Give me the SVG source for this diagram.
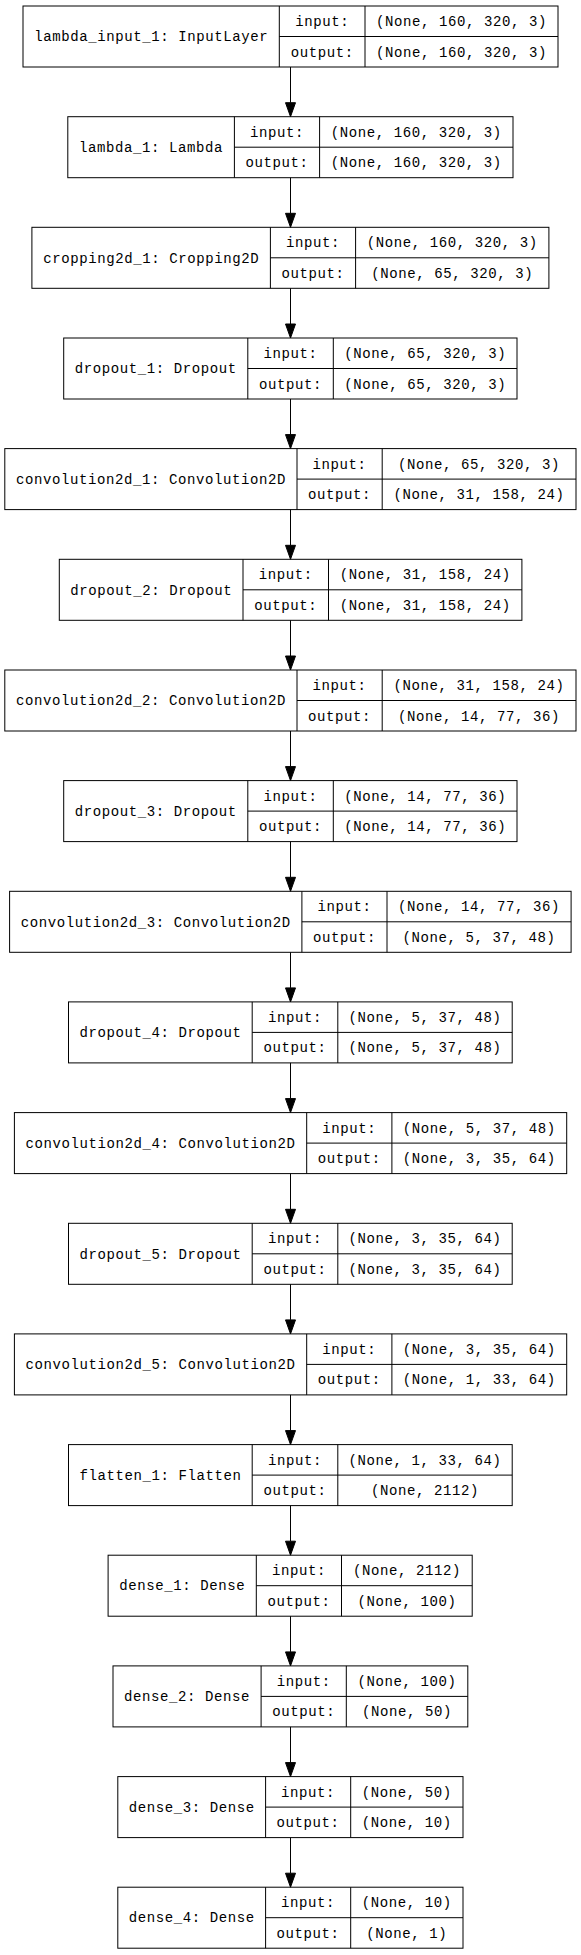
<svg xmlns="http://www.w3.org/2000/svg" width="581" height="1955" viewBox="0 0 581 1955">
<style>
.bg{fill:#fff}
.box rect{fill:none;stroke:#000;stroke-width:1}
.box line{stroke:#000;stroke-width:1}
.box text{font-family:"Liberation Mono","DejaVu Sans Mono",monospace;font-size:14px;letter-spacing:0.6px;text-anchor:middle;fill:#000}
.edges line{stroke:#000;stroke-width:1}
.edges polygon{fill:#000;stroke:#000;stroke-width:1}
</style>
<rect class="bg" x="0" y="0" width="581" height="1955"/>
<g class="edges">
<line x1="290.5" y1="67" x2="290.5" y2="102.7"/><polygon points="290.5,116.7 285.5,102.7 295.5,102.7"/>
<line x1="290.5" y1="177.7" x2="290.5" y2="213.3"/><polygon points="290.5,227.3 285.5,213.3 295.5,213.3"/>
<line x1="290.5" y1="288.3" x2="290.5" y2="324"/><polygon points="290.5,338 285.5,324 295.5,324"/>
<line x1="290.5" y1="399" x2="290.5" y2="434.6"/><polygon points="290.5,448.6 285.5,434.6 295.5,434.6"/>
<line x1="290.5" y1="509.6" x2="290.5" y2="545.3"/><polygon points="290.5,559.3 285.5,545.3 295.5,545.3"/>
<line x1="290.5" y1="620.3" x2="290.5" y2="656"/><polygon points="290.5,670 285.5,656 295.5,656"/>
<line x1="290.5" y1="731" x2="290.5" y2="766.6"/><polygon points="290.5,780.6 285.5,766.6 295.5,766.6"/>
<line x1="290.5" y1="841.6" x2="290.5" y2="877.3"/><polygon points="290.5,891.3 285.5,877.3 295.5,877.3"/>
<line x1="290.5" y1="952.3" x2="290.5" y2="987.9"/><polygon points="290.5,1001.9 285.5,987.9 295.5,987.9"/>
<line x1="290.5" y1="1062.9" x2="290.5" y2="1098.6"/><polygon points="290.5,1112.6 285.5,1098.6 295.5,1098.6"/>
<line x1="290.5" y1="1173.6" x2="290.5" y2="1209.3"/><polygon points="290.5,1223.3 285.5,1209.3 295.5,1209.3"/>
<line x1="290.5" y1="1284.3" x2="290.5" y2="1319.9"/><polygon points="290.5,1333.9 285.5,1319.9 295.5,1319.9"/>
<line x1="290.5" y1="1394.9" x2="290.5" y2="1430.6"/><polygon points="290.5,1444.6 285.5,1430.6 295.5,1430.6"/>
<line x1="290.5" y1="1505.6" x2="290.5" y2="1541.2"/><polygon points="290.5,1555.2 285.5,1541.2 295.5,1541.2"/>
<line x1="290.5" y1="1616.2" x2="290.5" y2="1651.9"/><polygon points="290.5,1665.9 285.5,1651.9 295.5,1651.9"/>
<line x1="290.5" y1="1726.9" x2="290.5" y2="1762.6"/><polygon points="290.5,1776.6 285.5,1762.6 295.5,1762.6"/>
<line x1="290.5" y1="1837.6" x2="290.5" y2="1873.2"/><polygon points="290.5,1887.2 285.5,1873.2 295.5,1873.2"/>
</g>
<g id="lambda_input_1" class="box" transform="translate(0,6)">
<rect x="23" y="0" width="535" height="61"/><line x1="279.3" y1="0" x2="279.3" y2="61"/><line x1="365" y1="0" x2="365" y2="61"/><line x1="279.3" y1="30.5" x2="558" y2="30.5"/>
<text x="151.2" y="35.3">lambda_input_1: InputLayer</text><text x="322.2" y="20">input:</text><text x="322.2" y="50.5">output:</text><text x="461.5" y="20">(None, 160, 320, 3)</text><text x="461.5" y="50.5">(None, 160, 320, 3)</text>
</g>
<g id="lambda_1" class="box" transform="translate(0,116.7)">
<rect x="67.8" y="0" width="445.2" height="61"/><line x1="234.4" y1="0" x2="234.4" y2="61"/><line x1="319.6" y1="0" x2="319.6" y2="61"/><line x1="234.4" y1="30.5" x2="513" y2="30.5"/>
<text x="151.1" y="35.3">lambda_1: Lambda</text><text x="277" y="20">input:</text><text x="277" y="50.5">output:</text><text x="416.3" y="20">(None, 160, 320, 3)</text><text x="416.3" y="50.5">(None, 160, 320, 3)</text>
</g>
<g id="cropping2d_1" class="box" transform="translate(0,227.3)">
<rect x="31.9" y="0" width="517" height="61"/><line x1="270.4" y1="0" x2="270.4" y2="61"/><line x1="355.6" y1="0" x2="355.6" y2="61"/><line x1="270.4" y1="30.5" x2="548.9" y2="30.5"/>
<text x="151.2" y="35.3">cropping2d_1: Cropping2D</text><text x="313" y="20">input:</text><text x="313" y="50.5">output:</text><text x="452.3" y="20">(None, 160, 320, 3)</text><text x="452.3" y="50.5">(None, 65, 320, 3)</text>
</g>
<g id="dropout_1" class="box" transform="translate(0,338)">
<rect x="63.7" y="0" width="453.3" height="61"/><line x1="247.8" y1="0" x2="247.8" y2="61"/><line x1="333.3" y1="0" x2="333.3" y2="61"/><line x1="247.8" y1="30.5" x2="517" y2="30.5"/>
<text x="155.8" y="35.3">dropout_1: Dropout</text><text x="290.6" y="20">input:</text><text x="290.6" y="50.5">output:</text><text x="425.2" y="20">(None, 65, 320, 3)</text><text x="425.2" y="50.5">(None, 65, 320, 3)</text>
</g>
<g id="convolution2d_1" class="box" transform="translate(0,448.6)">
<rect x="4.8" y="0" width="571.2" height="61"/><line x1="297" y1="0" x2="297" y2="61"/><line x1="382.2" y1="0" x2="382.2" y2="61"/><line x1="297" y1="30.5" x2="576" y2="30.5"/>
<text x="150.9" y="35.3">convolution2d_1: Convolution2D</text><text x="339.6" y="20">input:</text><text x="339.6" y="50.5">output:</text><text x="479.1" y="20">(None, 65, 320, 3)</text><text x="479.1" y="50.5">(None, 31, 158, 24)</text>
</g>
<g id="dropout_2" class="box" transform="translate(0,559.3)">
<rect x="59.3" y="0" width="462.6" height="61"/><line x1="243" y1="0" x2="243" y2="61"/><line x1="328.5" y1="0" x2="328.5" y2="61"/><line x1="243" y1="30.5" x2="521.9" y2="30.5"/>
<text x="151.2" y="35.3">dropout_2: Dropout</text><text x="285.8" y="20">input:</text><text x="285.8" y="50.5">output:</text><text x="425.2" y="20">(None, 31, 158, 24)</text><text x="425.2" y="50.5">(None, 31, 158, 24)</text>
</g>
<g id="convolution2d_2" class="box" transform="translate(0,670)">
<rect x="4.8" y="0" width="571.2" height="61"/><line x1="297" y1="0" x2="297" y2="61"/><line x1="382.2" y1="0" x2="382.2" y2="61"/><line x1="297" y1="30.5" x2="576" y2="30.5"/>
<text x="150.9" y="35.3">convolution2d_2: Convolution2D</text><text x="339.6" y="20">input:</text><text x="339.6" y="50.5">output:</text><text x="479.1" y="20">(None, 31, 158, 24)</text><text x="479.1" y="50.5">(None, 14, 77, 36)</text>
</g>
<g id="dropout_3" class="box" transform="translate(0,780.6)">
<rect x="63.7" y="0" width="453.3" height="61"/><line x1="247.8" y1="0" x2="247.8" y2="61"/><line x1="333.3" y1="0" x2="333.3" y2="61"/><line x1="247.8" y1="30.5" x2="517" y2="30.5"/>
<text x="155.8" y="35.3">dropout_3: Dropout</text><text x="290.6" y="20">input:</text><text x="290.6" y="50.5">output:</text><text x="425.2" y="20">(None, 14, 77, 36)</text><text x="425.2" y="50.5">(None, 14, 77, 36)</text>
</g>
<g id="convolution2d_3" class="box" transform="translate(0,891.3)">
<rect x="9.6" y="0" width="561.5" height="61"/><line x1="301.9" y1="0" x2="301.9" y2="61"/><line x1="387" y1="0" x2="387" y2="61"/><line x1="301.9" y1="30.5" x2="571.1" y2="30.5"/>
<text x="155.8" y="35.3">convolution2d_3: Convolution2D</text><text x="344.5" y="20">input:</text><text x="344.5" y="50.5">output:</text><text x="479.1" y="20">(None, 14, 77, 36)</text><text x="479.1" y="50.5">(None, 5, 37, 48)</text>
</g>
<g id="dropout_4" class="box" transform="translate(0,1001.9)">
<rect x="68.5" y="0" width="443.7" height="61"/><line x1="252.2" y1="0" x2="252.2" y2="61"/><line x1="337.8" y1="0" x2="337.8" y2="61"/><line x1="252.2" y1="30.5" x2="512.2" y2="30.5"/>
<text x="160.4" y="35.3">dropout_4: Dropout</text><text x="295" y="20">input:</text><text x="295" y="50.5">output:</text><text x="425" y="20">(None, 5, 37, 48)</text><text x="425" y="50.5">(None, 5, 37, 48)</text>
</g>
<g id="convolution2d_4" class="box" transform="translate(0,1112.6)">
<rect x="14.4" y="0" width="552.3" height="61"/><line x1="306.7" y1="0" x2="306.7" y2="61"/><line x1="391.9" y1="0" x2="391.9" y2="61"/><line x1="306.7" y1="30.5" x2="566.7" y2="30.5"/>
<text x="160.6" y="35.3">convolution2d_4: Convolution2D</text><text x="349.3" y="20">input:</text><text x="349.3" y="50.5">output:</text><text x="479.3" y="20">(None, 5, 37, 48)</text><text x="479.3" y="50.5">(None, 3, 35, 64)</text>
</g>
<g id="dropout_5" class="box" transform="translate(0,1223.3)">
<rect x="68.5" y="0" width="443.7" height="61"/><line x1="252.2" y1="0" x2="252.2" y2="61"/><line x1="337.8" y1="0" x2="337.8" y2="61"/><line x1="252.2" y1="30.5" x2="512.2" y2="30.5"/>
<text x="160.4" y="35.3">dropout_5: Dropout</text><text x="295" y="20">input:</text><text x="295" y="50.5">output:</text><text x="425" y="20">(None, 3, 35, 64)</text><text x="425" y="50.5">(None, 3, 35, 64)</text>
</g>
<g id="convolution2d_5" class="box" transform="translate(0,1333.9)">
<rect x="14.4" y="0" width="552.3" height="61"/><line x1="306.7" y1="0" x2="306.7" y2="61"/><line x1="391.9" y1="0" x2="391.9" y2="61"/><line x1="306.7" y1="30.5" x2="566.7" y2="30.5"/>
<text x="160.6" y="35.3">convolution2d_5: Convolution2D</text><text x="349.3" y="20">input:</text><text x="349.3" y="50.5">output:</text><text x="479.3" y="20">(None, 3, 35, 64)</text><text x="479.3" y="50.5">(None, 1, 33, 64)</text>
</g>
<g id="flatten_1" class="box" transform="translate(0,1444.6)">
<rect x="68.5" y="0" width="443.7" height="61"/><line x1="252.2" y1="0" x2="252.2" y2="61"/><line x1="337.8" y1="0" x2="337.8" y2="61"/><line x1="252.2" y1="30.5" x2="512.2" y2="30.5"/>
<text x="160.4" y="35.3">flatten_1: Flatten</text><text x="295" y="20">input:</text><text x="295" y="50.5">output:</text><text x="425" y="20">(None, 1, 33, 64)</text><text x="425" y="50.5">(None, 2112)</text>
</g>
<g id="dense_1" class="box" transform="translate(0,1555.2)">
<rect x="108.1" y="0" width="364.1" height="61"/><line x1="256.3" y1="0" x2="256.3" y2="61"/><line x1="341.5" y1="0" x2="341.5" y2="61"/><line x1="256.3" y1="30.5" x2="472.2" y2="30.5"/>
<text x="182.2" y="35.3">dense_1: Dense</text><text x="298.9" y="20">input:</text><text x="298.9" y="50.5">output:</text><text x="406.9" y="20">(None, 2112)</text><text x="406.9" y="50.5">(None, 100)</text>
</g>
<g id="dense_2" class="box" transform="translate(0,1665.9)">
<rect x="113" y="0" width="354.8" height="61"/><line x1="261.1" y1="0" x2="261.1" y2="61"/><line x1="346.3" y1="0" x2="346.3" y2="61"/><line x1="261.1" y1="30.5" x2="467.8" y2="30.5"/>
<text x="187" y="35.3">dense_2: Dense</text><text x="303.7" y="20">input:</text><text x="303.7" y="50.5">output:</text><text x="407" y="20">(None, 100)</text><text x="407" y="50.5">(None, 50)</text>
</g>
<g id="dense_3" class="box" transform="translate(0,1776.6)">
<rect x="117.8" y="0" width="345.2" height="61"/><line x1="265.6" y1="0" x2="265.6" y2="61"/><line x1="350.7" y1="0" x2="350.7" y2="61"/><line x1="265.6" y1="30.5" x2="463" y2="30.5"/>
<text x="191.7" y="35.3">dense_3: Dense</text><text x="308.1" y="20">input:</text><text x="308.1" y="50.5">output:</text><text x="406.8" y="20">(None, 50)</text><text x="406.8" y="50.5">(None, 10)</text>
</g>
<g id="dense_4" class="box" transform="translate(0,1887.2)">
<rect x="117.8" y="0" width="345.2" height="61"/><line x1="265.6" y1="0" x2="265.6" y2="61"/><line x1="350.7" y1="0" x2="350.7" y2="61"/><line x1="265.6" y1="30.5" x2="463" y2="30.5"/>
<text x="191.7" y="35.3">dense_4: Dense</text><text x="308.1" y="20">input:</text><text x="308.1" y="50.5">output:</text><text x="406.8" y="20">(None, 10)</text><text x="406.8" y="50.5">(None, 1)</text>
</g>
</svg>
